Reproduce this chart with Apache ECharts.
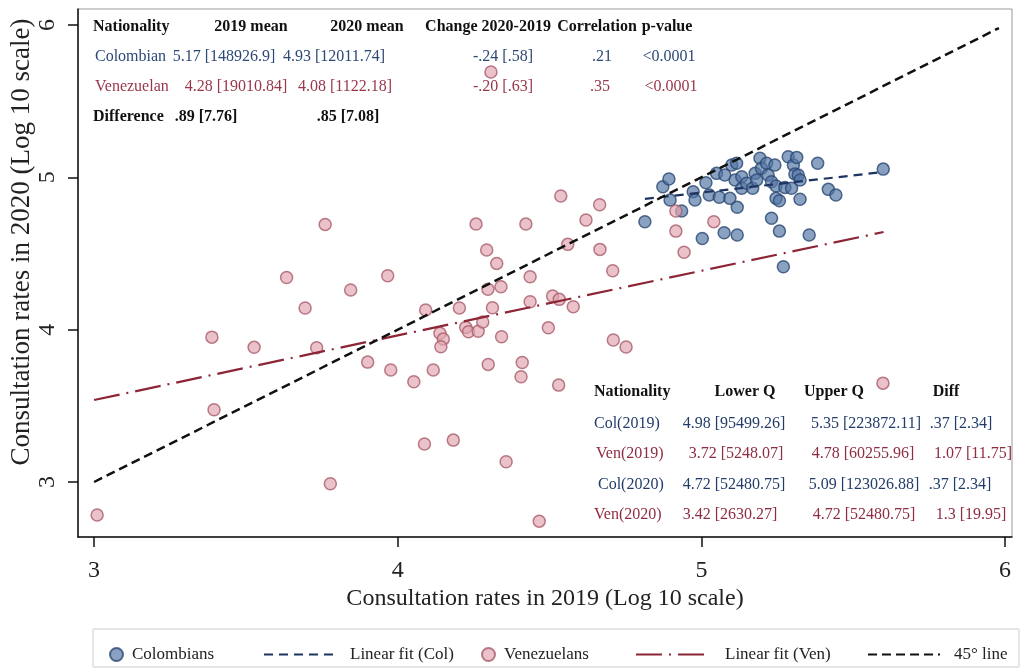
<!DOCTYPE html>
<html><head><meta charset="utf-8">
<script src="https://cdn.jsdelivr.net/npm/echarts@6/dist/echarts.min.js"></script>
<style>html,body{margin:0;padding:0;background:#fff}#c{width:1021px;height:671px}</style>
</head><body><div id="c"></div>
<script>
// ---- data ----
const colombians = [
  [4.814,4.708],[4.873,4.938],[4.893,4.989],[4.897,4.851],[4.935,4.779],[4.973,4.905],[4.979,4.851],
  [5.015,4.965],[5.026,4.884],[5.003,4.599],[5.059,4.869],[5.050,5.026],[5.075,4.636],[5.077,5.015],
  [5.094,4.862],[5.118,4.803],[5.118,4.621],[5.100,5.081],[5.116,5.092],[5.111,4.982],[5.133,5.004],
  [5.133,4.928],[5.149,4.961],[5.169,4.928],[5.177,5.026],[5.193,5.125],[5.182,4.982],[5.198,5.059],
  [5.215,5.092],[5.220,5.015],[5.231,4.971],[5.242,5.081],[5.246,4.943],[5.231,4.731],[5.246,4.862],
  [5.257,4.846],[5.257,4.647],[5.270,4.413],[5.275,4.934],[5.286,5.135],[5.303,5.081],[5.314,5.131],
  [5.297,4.928],[5.308,5.022],[5.319,5.015],[5.325,4.982],[5.325,4.856],[5.355,4.621],[5.383,5.092],
  [5.418,4.921],[5.443,4.884],[5.599,5.054]
];
const venezuelans = [
  [3.010,2.783],[3.761,4.691],[3.634,4.343],[3.967,4.354],[3.845,4.260],[3.695,4.142],[4.092,4.129],
  [3.388,3.951],[3.527,3.884],[3.733,3.881],[3.901,3.787],[3.977,3.735],[4.053,3.658],[3.395,3.474],
  [4.088,3.249],[3.778,2.988],[4.537,4.877],[4.665,4.820],[4.258,4.693],[4.422,4.693],[4.620,4.720],
  [4.916,4.779],[4.916,4.647],[5.041,4.709],[4.943,4.508],[4.293,4.523],[4.326,4.435],[4.560,4.560],
  [4.666,4.527],[4.708,4.387],[4.436,4.347],[4.297,4.265],[4.340,4.282],[4.203,4.142],[4.312,4.144],
  [4.436,4.183],[4.510,4.221],[4.532,4.199],[4.578,4.150],[4.139,3.976],[4.150,3.938],[4.142,3.888],
  [4.224,4.015],[4.233,3.986],[4.265,3.989],[4.280,4.050],[4.342,3.953],[4.496,4.012],[4.710,3.932],
  [4.752,3.886],[4.117,3.735],[4.298,3.772],[4.410,3.785],[4.406,3.691],[4.530,3.636],[4.183,3.275],
  [4.357,3.133],[4.466,2.743],[4.307,5.691],[5.598,3.649]
];
const colFit = [[4.814,4.858],[5.600,5.035]];
const venFit = [[3.000,3.538],[5.600,4.641]];
const line45 = [[3,3],[5.98,5.98]];
const xTicks = [3,4,5,6];
const yTicks = [3,4,5,6];
const xTitle = 'Consultation rates in 2019 (Log 10 scale)';
const yTitle = 'Consultation rates in 2020 (Log 10 scale)';
const legendNames = ['Colombians','Linear fit (Col)','Venezuelans','Linear fit (Ven)','45\u00B0 line'];

const topHeader = ['Nationality','2019 mean','2020 mean','Change 2020-2019','Correlation','p-value'];
const topColRow = ['Colombian','5.17 [148926.9]','4.93 [12011.74]','-.24 [.58]','.21','<0.0001'];
const topVenRow = ['Venezuelan','4.28 [19010.84]','4.08 [1122.18]','-.20 [.63]','.35','<0.0001'];
const topDiffRow = ['Difference','.89 [7.76]','.85 [7.08]'];
const qHeader = ['Nationality','Lower Q','Upper Q','Diff'];
const qCol2019 = ['Col(2019)','4.98 [95499.26]','5.35 [223872.11]','.37 [2.34]'];
const qVen2019 = ['Ven(2019)','3.72 [5248.07]','4.78 [60255.96]','1.07 [11.75]'];
const qCol2020 = ['Col(2020)','4.72 [52480.75]','5.09 [123026.88]','.37 [2.34]'];
const qVen2020 = ['Ven(2020)','3.42 [2630.27]','4.72 [52480.75]','1.3 [19.95]'];

// ---- style ----
const FONT = '"Liberation Serif","DejaVu Serif",serif';
const BLUE_TXT = '#2c4877', RED_TXT = '#98374b', BLACK = '#111';
const graphics = [];
function addRow(cells, xs, aligns, y, color, weight, size) {
  cells.forEach((t, i) => {
    graphics.push({type:'text', x: xs[i], y: y, z: 100,
      style:{text:t, fill:color, fontFamily:FONT, fontSize:size, fontWeight:weight,
             align:aligns[i], verticalAlign:'middle'}});
  });
}
const TS = 16;
const topA = ['left','center','center','center','center','center'];
addRow(topHeader, [93,251,367,488,597,667], topA, 27, BLACK, 'bold', TS);
addRow(topColRow, [95,224,334,503,602,669], topA, 57, BLUE_TXT, 'normal', TS);
addRow(topVenRow, [95,236,345,503,600,671], topA, 87, RED_TXT, 'normal', TS);
addRow(topDiffRow, [93,206,348], topA, 117, BLACK, 'bold', TS);
const qA = ['left','center','center','center'];
addRow(qHeader, [594,745,834,946], qA, 392, BLACK, 'bold', TS);
addRow(qCol2019, [594,734,866,961], qA, 424, '#223c6a', 'normal', TS);
addRow(qVen2019, [596,736,863,973], qA, 454, '#8e2c40', 'normal', TS);
addRow(qCol2020, [598,734,864,960], qA, 485, '#223c6a', 'normal', TS);
addRow(qVen2020, [594,730,864,971], qA, 515, '#8e2c40', 'normal', TS);
graphics.push({type:'rect', z:0, shape:{x:93,y:629,width:926,height:38},
  style:{fill:'none', stroke:'#cfcfcf', lineWidth:1}});

const colItem = {color:'rgba(84,118,165,0.85)', borderColor:'#2a4772', borderWidth:1.5};
const venItem = {color:'rgba(226,166,176,0.85)', borderColor:'#a85d6c', borderWidth:1.5};

function legendAt(name, left, w, isLine) {
  const l = {data:[name], left:left, top:641, itemWidth:w, itemHeight:13, selectedMode:false,
    textStyle:{fontFamily:FONT, fontSize:17, color:'#222', padding:[0,0,0, isLine?9:4]}};
  if (isLine) l.itemStyle = {color:'rgba(0,0,0,0)', borderWidth:0, opacity:0};
  return l;
}

const option = {
  animation:false,
  backgroundColor:'#fff',
  grid:{left:78, top:9, right:9, bottom:134, show:true, borderColor:'#9a9a9a', borderWidth:1,
        outerBoundsMode:'none', containLabel:false},
  xAxis:{type:'value', min:2.947, max:6.023,
    name:xTitle, nameLocation:'middle', nameGap:50, nameMoveOverlap:false,
    nameTextStyle:{fontFamily:FONT, fontSize:24, color:'#222'},
    axisLine:{show:true, onZero:false, lineStyle:{color:'#111', width:1.5}},
    axisTick:{show:true, customValues:xTicks, length:10, lineStyle:{color:'#111', width:1.5}},
    axisLabel:{customValues:xTicks, fontFamily:FONT, fontSize:24, color:'#222', margin:22},
    splitLine:{show:false}},
  yAxis:{type:'value', min:2.639, max:6.105,
    name:yTitle, nameLocation:'middle', nameGap:43, nameMoveOverlap:false,
    nameTextStyle:{fontFamily:FONT, fontSize:27, color:'#222', padding:[0,0,0,62]},
    axisLine:{show:true, onZero:false, lineStyle:{color:'#111', width:1.5}},
    axisTick:{show:true, customValues:yTicks, length:10, lineStyle:{color:'#111', width:1.5}},
    axisLabel:{customValues:yTicks, rotate:90, fontFamily:FONT, fontSize:24, color:'#222', margin:18},
    splitLine:{show:false}},
  legend:[
    legendAt(legendNames[0], 104, 13, false),
    legendAt(legendNames[1], 258, 72, true),
    legendAt(legendNames[2], 476, 13, false),
    legendAt(legendNames[3], 630, 75, true),
    legendAt(legendNames[4], 862, 72, true)
  ],
  graphic:graphics,
  series:[
    {name:legendNames[0], type:'scatter', data:colombians, symbol:'circle', symbolSize:12, itemStyle:colItem, z:2},
    {name:legendNames[1], type:'line', data:colFit, symbol:'none', z:3,
      itemStyle:{color:'#1f3360'}, lineStyle:{color:'#1f3360', width:2.2, type:[9,6]}},
    {name:legendNames[2], type:'scatter', data:venezuelans, symbol:'circle', symbolSize:12, itemStyle:venItem, z:2},
    {name:legendNames[3], type:'line', data:venFit, symbol:'none', z:3,
      itemStyle:{color:'#8c2535'}, lineStyle:{color:'#8c2535', width:2.2, type:[26,7,2,7]}},
    {name:legendNames[4], type:'line', data:line45, symbol:'none', z:4,
      itemStyle:{color:'#111'}, lineStyle:{color:'#111', width:2.5, type:[9,5]}}
  ]
};
const chart = echarts.init(document.getElementById('c'), null, {renderer:'canvas'});
chart.setOption(option);
</script></body></html>
